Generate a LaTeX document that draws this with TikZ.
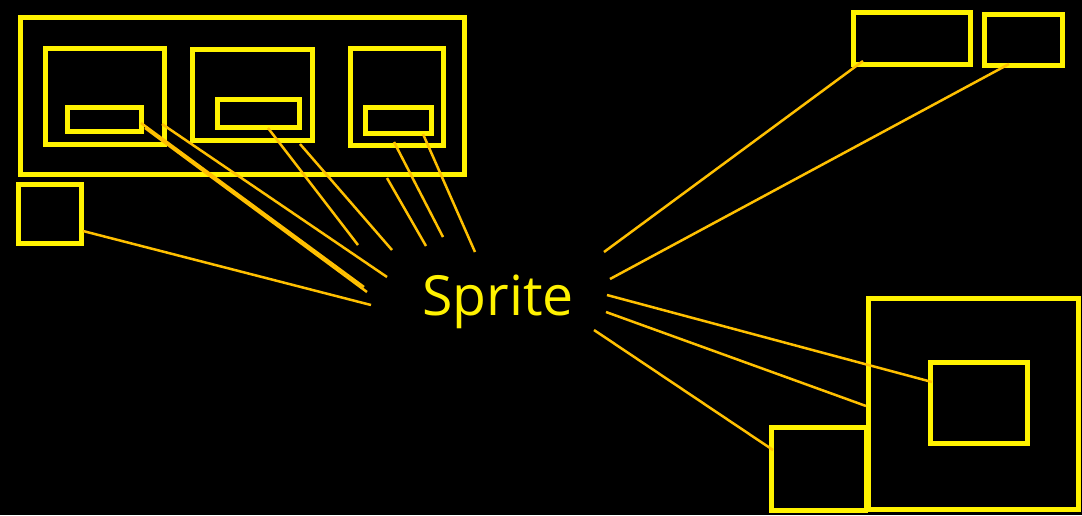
\documentclass[tikz,border=0pt]{standalone}
\usepackage{fontspec}
\setmainfont{Open Sans}
\usepackage{tikz}
\usetikzlibrary{positioning}

\definecolor{boxyellow}{HTML}{FFF200}
\definecolor{lineorange}{HTML}{FFC000}

\begin{document}
\begin{tikzpicture}[x=0.02cm, y=-0.02cm,
box/.style={draw=boxyellow, line width=0.1cm, inner sep=0, outer sep=0},
link/.style={draw=lineorange, line width=0.05cm}]
\fill [black] (0,0) rectangle (1082,515);
\useasboundingbox (0,0) rectangle (1082,515);

% left group
\node [box, minimum width=8.9cm, minimum height=3.14cm] (frame) at (242.5,96) {};
\node [box, minimum width=2.38cm, minimum height=1.92cm] (outA) at (105,96.5) {};
\node [box, minimum width=1.5cm, minimum height=0.48cm] (inA) at (104.5,119) {};
\node [box, minimum width=2.42cm, minimum height=1.84cm] (outB) at (252.5,95) {};
\node [box, minimum width=1.66cm, minimum height=0.56cm] (inB) at (258.5,113) {};
\node [box, minimum width=1.88cm, minimum height=1.96cm] (outC) at (397,97) {};
\node [box, minimum width=1.34cm, minimum height=0.52cm] (inC) at (398.5,120) {};
\node [box, minimum width=1.28cm, minimum height=1.18cm] (lone) at (50,213.5) {};

% right group
\node [box, minimum width=2.36cm, minimum height=1.04cm] (topA) at (912,38) {};
\node [box, minimum width=1.56cm, minimum height=1.02cm] (topB) at (1023,39.5) {};
\node [box, minimum width=4.2cm, minimum height=4.22cm] (big) at (973.5,404) {};
\node [box, minimum width=1.94cm, minimum height=1.62cm] (inBig) at (978.5,402.5) {};
\node [box, minimum width=1.9cm, minimum height=1.66cm] (low) at (818.5,468.5) {};

\node [text=boxyellow, font=\fontsize{31.5}{36}\selectfont, inner sep=0] (sprite) at (498,302) {Sprite};

% loose ends round the label
\coordinate (e1) at (371,305);
\coordinate (e2) at (364,287);
\coordinate (e3) at (367,292);
\coordinate (e4) at (387,277);
\coordinate (e5) at (358,245);
\coordinate (e6) at (392,250);
\coordinate (e7) at (426,246);
\coordinate (e8) at (443,237);
\coordinate (e9) at (475,252);
\coordinate (f1) at (604,252);
\coordinate (f2) at (610,279);
\coordinate (f3) at (607,295);
\coordinate (f4) at (606,312);
\coordinate (f5) at (594,330);

% start points on the boxes
\coordinate (s1) at (83,231);
\coordinate (s2) at (141,123);
\coordinate (s3) at (145,128);
\coordinate (s4) at (162,124);
\coordinate (s5) at (268,128);
\coordinate (s6) at (300,144);
\coordinate (s7) at (387,178);
\coordinate (s8) at (394,142);
\coordinate (s9) at (423,134);
\coordinate (t1) at (863,61);
\coordinate (t2) at (1009,64);
\coordinate (t3) at (932,382);
\coordinate (t4) at (866,406);
\coordinate (t5) at (773,450);

\foreach \s/\e in {s1/e1, s2/e2, s3/e3, s4/e4, s5/e5, s6/e6, s7/e7, s8/e8, s9/e9,
t1/f1, t2/f2, t3/f3, t4/f4, t5/f5}
\draw [link] (\s) -- (\e);
\end{tikzpicture}
\end{document}
